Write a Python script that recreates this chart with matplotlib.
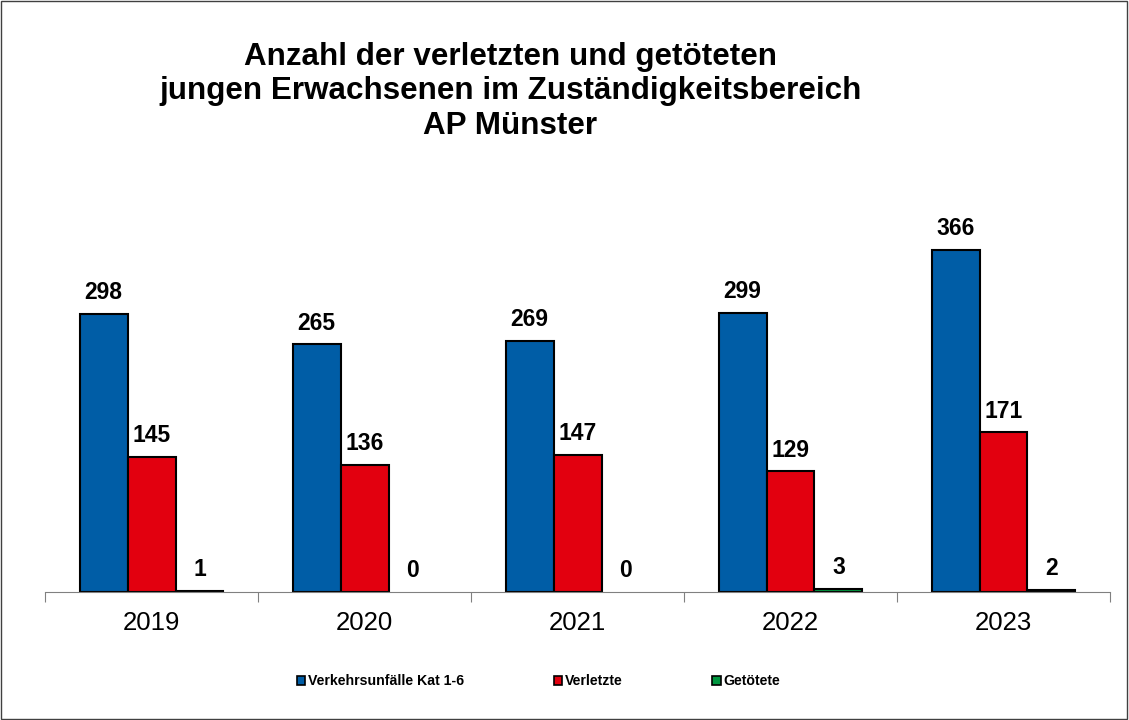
import numpy as np
import matplotlib.pyplot as plt
from matplotlib.patches import Patch, Rectangle

plt.rcParams['font.family'] = ['Liberation Sans', 'DejaVu Sans']

# Daten
JAHRE = ['2019', '2020', '2021', '2022', '2023']
UNFAELLE = [298, 265, 269, 299, 366]
VERLETZTE = [145, 136, 147, 129, 171]
GETOETETE = [1, 0, 0, 3, 2]
SERIEN = ['Verkehrsunfälle Kat 1-6', 'Verletzte', 'Getötete']
FARBEN = ['#005DA6', '#E2000F', '#00963F']

fig = plt.figure(figsize=(11.29, 7.2), dpi=100)
ax = fig.add_axes([0.0399, 0.1778, 0.9433, 0.519])

x = np.arange(len(JAHRE))
breite = 0.225
for i, (werte, farbe) in enumerate(zip([UNFAELLE, VERLETZTE, GETOETETE], FARBEN)):
    lw = [1.5 if v else 0 for v in werte]
    bars = ax.bar(x + (i - 1) * breite, werte, breite, color=farbe,
                  edgecolor='black', linewidth=lw, zorder=3)
    for b, v in zip(bars, werte):
        ax.annotate(str(v), (b.get_x() + b.get_width() / 2, v),
                    xytext=(0, 7), textcoords='offset points',
                    ha='center', va='bottom', fontsize=16.5, fontweight='bold')

ax.set_xlim(-0.5, len(JAHRE) - 0.5)
ax.set_ylim(0, 400)
ax.set_yticks([])
for s in ['top', 'right', 'left']:
    ax.spines[s].set_visible(False)
ax.spines['bottom'].set_color('#808080')
ax.spines['bottom'].set_zorder(4)
ax.set_xticks(np.arange(len(JAHRE) + 1) - 0.5)
ax.set_xticklabels([])
ax.set_xticks(x, minor=True)
ax.set_xticklabels(JAHRE, minor=True, fontsize=18.5)
ax.tick_params(axis='x', which='major', direction='out', length=7, color='#808080')
ax.tick_params(axis='x', which='minor', length=0, pad=14)

fig.text(0.452, 0.873, 'Anzahl der verletzten und getöteten\n'
         'jungen Erwachsenen im Zuständigkeitsbereich\nAP Münster',
         ha='center', va='center', fontsize=22.6, fontweight='bold', linespacing=1.2)

handles = [Patch(facecolor=c, edgecolor='black', linewidth=1.2) for c in FARBEN]
fig.legend(handles, SERIEN, loc='center', bbox_to_anchor=(0.477, 0.054), ncol=3,
           frameon=False, prop={'size': 10.2, 'weight': 'bold'},
           handlelength=0.6, handleheight=0.6, handletextpad=0.2, columnspacing=6.3)

fig.patches.append(Rectangle((0.0005, 0.0008), 0.998, 0.998, transform=fig.transFigure,
                             fill=False, edgecolor='#404040', linewidth=1))

fig.savefig('out.png', dpi=100)
